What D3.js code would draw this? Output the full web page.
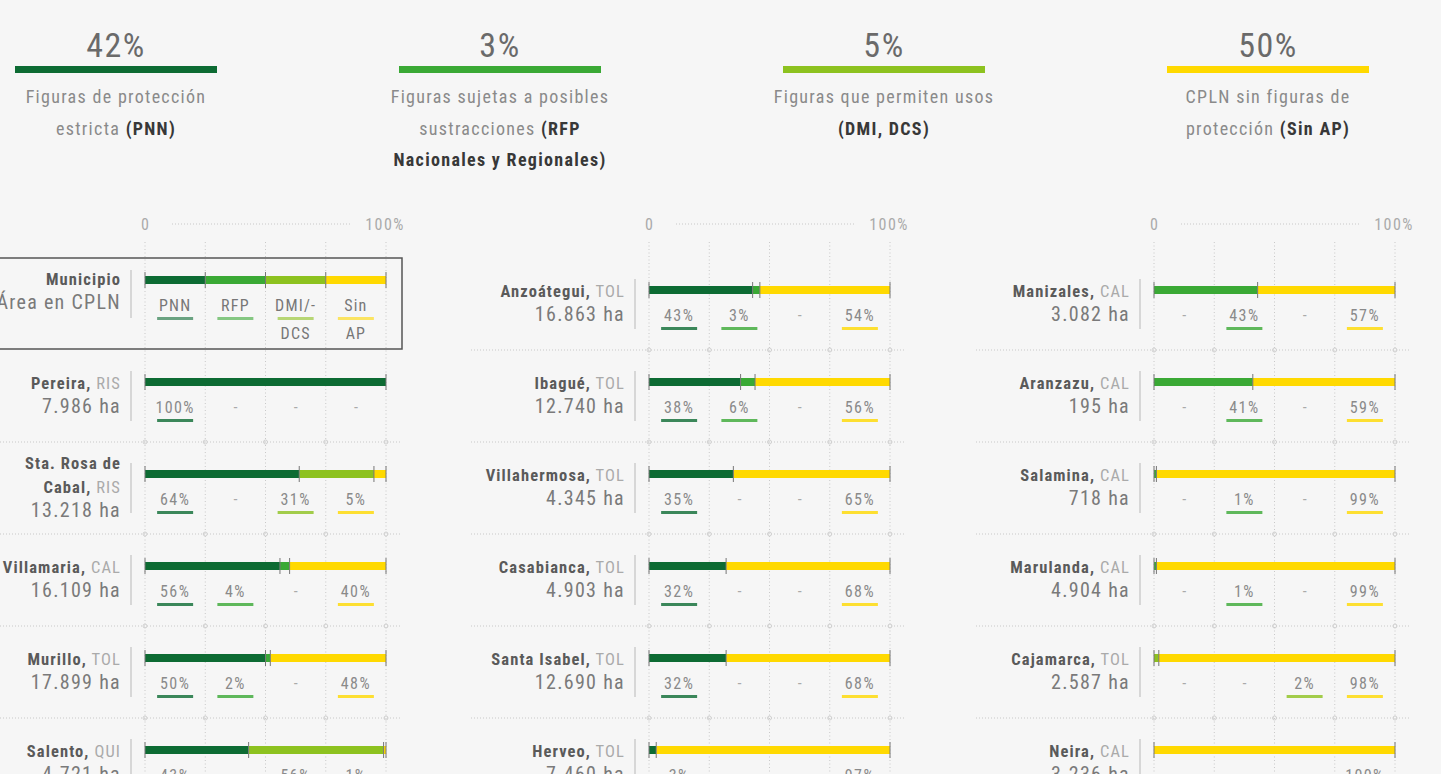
<!DOCTYPE html>
<html>
<head>
<meta charset="utf-8">
<script src="https://cdn.jsdelivr.net/npm/d3@7"></script>
<style>
body{margin:0;background:#f6f6f6;overflow:hidden}
svg{display:block;font-family:"Liberation Sans Narrow","Roboto Condensed","DejaVu Sans Condensed",sans-serif}
</style>
</head>
<body>
<div id="chart"></div>
<script>
// categorias y totales del encabezado
const categorias = ["PNN", "RFP", "DMI/DCS", "Sin AP"];
const colores = ["#0d6b33", "#3aa935", "#8dc21f", "#ffd900"];
const totales = [42, 3, 5, 50];
const encabezado = [
    [[["Figuras de protección", 0]], [["estricta ", 0], ["(PNN)", 1]]],
    [[["Figuras sujetas a posibles", 0]], [["sustracciones ", 0], ["(RFP", 1]], [["Nacionales y Regionales)", 1]]],
    [[["Figuras que permiten usos", 0]], [["(DMI, DCS)", 1]]],
    [[["CPLN sin figuras de", 0]], [["protección ", 0], ["(Sin AP)", 1]]]
];
const leyendaLineas = [["PNN"], ["RFP"], ["DMI/-", "DCS"], ["Sin", "AP"]];

// municipios ("|" = salto de linea)
const municipios = ["Pereira", "Sta. Rosa de|Cabal", "Villamaria", "Murillo", "Salento",
    "Anzoátegui", "Ibagué", "Villahermosa", "Casabianca", "Santa Isabel", "Herveo",
    "Manizales", "Aranzazu", "Salamina", "Marulanda", "Cajamarca", "Neira"];
const departamentos = ["RIS", "RIS", "CAL", "TOL", "QUI",
    "TOL", "TOL", "TOL", "TOL", "TOL", "TOL",
    "CAL", "CAL", "CAL", "CAL", "TOL", "CAL"];
const areas = ["7.986", "13.218", "16.109", "17.899", "4.721",
    "16.863", "12.740", "4.345", "4.903", "12.690", "7.460",
    "3.082", "195", "718", "4.904", "2.587", "3.236"];
const pnn   = [100, 64, 56, 50, 43,  43, 38, 35, 32, 32, 3,   0, 0, 0, 0, 0, 0];
const rfp   = [0, 0, 4, 2, 0,        3, 6, 0, 0, 0, 0,        43, 41, 1, 1, 0, 0];
const dmi   = [0, 31, 0, 0, 56,      0, 0, 0, 0, 0, 0,        0, 0, 0, 0, 2, 0];
const sinAp = [0, 5, 40, 48, 1,      54, 56, 65, 68, 68, 97,  57, 59, 99, 99, 98, 100];
const columna = [0, 0, 0, 0, 0,  1, 1, 1, 1, 1, 1,  2, 2, 2, 2, 2, 2];
const fila    = [1, 2, 3, 4, 5,  0, 1, 2, 3, 4, 5,  0, 1, 2, 3, 4, 5];

const W = 1441, H = 774;
const keys = ["pnn", "rfp", "dmi", "sinAp"];

const svg = d3.select("#chart").append("svg")
    .attr("width", W)
    .attr("height", H);

svg.append("rect").attr("width", W).attr("height", H).attr("fill", "#f6f6f6");

// ---------- encabezado ----------
const hx = d3.scalePoint().domain(d3.range(4)).range([116, 1268]);

categorias.forEach((c, i) => {
    const g = svg.append("g").attr("transform", `translate(${hx(i)},0)`);
    g.append("text")
        .attr("y", 45).attr("dy", "0.35em")
        .attr("text-anchor", "middle")
        .attr("font-size", 34)
        .attr("letter-spacing", 1.5)
        .attr("fill", "#6a6a6a")
        .text(totales[i] + "%");
    g.append("rect")
        .attr("x", -101).attr("y", 66)
        .attr("width", 202).attr("height", 7)
        .attr("fill", colores[i]);
    encabezado[i].forEach((line, j) => {
        const t = g.append("text")
            .attr("y", 97 + j * 31.5).attr("dy", "0.35em")
            .attr("text-anchor", "middle")
            .attr("font-size", 18)
            .attr("letter-spacing", 1.3);
        line.forEach(([s, b]) => t.append("tspan")
            .attr("font-weight", b ? "bold" : null)
            .attr("fill", b ? "#383838" : "#8a8a8a")
            .text(s));
    });
});

// ---------- filas ----------
const rows = municipios.map((m, i) => ({
    name: m, dept: departamentos[i], area: areas[i],
    pnn: pnn[i], rfp: rfp[i], dmi: dmi[i], sinAp: sinAp[i],
    col: columna[i], fila: fila[i]
}));
const stacked = d3.stack().keys(keys)(rows);

const y = d3.scaleLinear().domain([0, 5]).range([290, 750]);
const colStart = [145, 649, 1154];
const barW = 241;
const barH = 8;

function rowLabel(g, xr, yc, lines) {
    const lh = 24;
    const top = yc + 13 - (lines.length - 1) * lh / 2;
    lines.forEach((line, j) => {
        const t = g.append("text")
            .attr("x", xr).attr("y", top + j * lh).attr("dy", "0.35em")
            .attr("text-anchor", "end");
        line.forEach(([s, st]) => {
            const sp = t.append("tspan").text(s);
            if (st === "b") sp.attr("font-weight", "bold").attr("fill", "#5a5a5a").attr("font-size", 16.5).attr("letter-spacing", 1.1);
            if (st === "d") sp.attr("fill", "#aaa").attr("font-size", 16.5).attr("letter-spacing", 1.1);
            if (st === "a") sp.attr("fill", "#7a7a7a").attr("font-size", 20).attr("letter-spacing", 1.3);
        });
    });
}

[0, 1, 2].forEach(c => {
    const x = d3.scaleLinear().domain([0, 100]).range([colStart[c], colStart[c] + barW]);
    const g = svg.append("g").attr("class", "col-" + c);
    const grid = d3.range(0, 101, 25);
    const colRows = rows.map((r, i) => ({ ...r, i })).filter(r => r.col === c);

    // eje superior
    g.append("text").attr("x", x(0)).attr("y", 224).attr("dy", "0.35em")
        .attr("text-anchor", "middle").attr("font-size", 16).attr("fill", "#aaa").text("0");
    g.append("text").attr("x", x(100) - 1).attr("y", 224).attr("dy", "0.35em")
        .attr("text-anchor", "middle").attr("font-size", 16).attr("letter-spacing", 1.4)
        .attr("fill", "#aaa").text("100%");
    g.append("line")
        .attr("x1", x(0) + 27).attr("x2", x(100) - 36)
        .attr("y1", 224).attr("y2", 224)
        .attr("stroke", "#c8c8c8").attr("stroke-dasharray", "1,2");

    // lineas de rejilla verticales
    g.selectAll(".grid").data(grid).enter().append("line")
        .attr("x1", d => x(d)).attr("x2", d => x(d))
        .attr("y1", 242).attr("y2", H)
        .attr("stroke", "#c8c8c8").attr("stroke-dasharray", "1,2.5");

    // separadores horizontales
    const seps = colRows.slice(0, -1).map(r => y(r.fila) + 60);
    g.selectAll(".sep").data(seps).enter().append("line")
        .attr("x1", x(0) - 178).attr("x2", x(100) + 16)
        .attr("y1", d => d).attr("y2", d => d)
        .attr("stroke", "#c8c8c8").attr("stroke-dasharray", "1,2");
    seps.forEach(sy => grid.forEach(gx => g.append("circle")
        .attr("cx", x(gx)).attr("cy", sy).attr("r", 2)
        .attr("fill", "none").attr("stroke", "#d0d0d0")));

    colRows.forEach(r => {
        const yc = y(r.fila);
        const rg = g.append("g");

        // etiqueta
        const nameLines = r.name.split("|");
        const lines = nameLines.map((n, j) => j < nameLines.length - 1
            ? [[n, "b"]]
            : [[n + ",", "b"], [" " + r.dept, "d"]]);
        lines.push([[r.area + " ha", "a"]]);
        rowLabel(rg, x(0) - 24, yc, lines);
        rg.append("line")
            .attr("x1", x(0) - 14).attr("x2", x(0) - 14)
            .attr("y1", yc - 11).attr("y2", yc + 39)
            .attr("stroke", "#ccc").attr("stroke-width", 1.5);

        // barras apiladas
        const bounds = new Set();
        keys.forEach((k, ki) => {
            const [a, b] = stacked[ki][r.i];
            if (b - a <= 0) return;
            bounds.add(a); bounds.add(b);
            rg.append("rect")
                .attr("x", x(a)).attr("y", yc - barH / 2)
                .attr("width", x(b) - x(a)).attr("height", barH)
                .attr("fill", colores[ki]);
        });
        [...bounds].forEach(v => rg.append("line")
            .attr("x1", x(v)).attr("x2", x(v))
            .attr("y1", yc - 8).attr("y2", yc + 8)
            .attr("stroke", "#777").attr("stroke-width", 1));

        // porcentajes
        keys.forEach((k, ki) => {
            const cx = x(12.5 + 25 * ki);
            const v = r[k];
            rg.append("text")
                .attr("x", cx).attr("y", yc + 25).attr("dy", "0.35em")
                .attr("text-anchor", "middle")
                .attr("font-size", 16)
                .attr("letter-spacing", v > 0 ? 1.4 : 0)
                .attr("fill", v > 0 ? "#8a8a8a" : "#aaa")
                .text(v > 0 ? v + "%" : "-");
            if (v > 0) rg.append("rect")
                .attr("x", cx - 18).attr("y", yc + 37)
                .attr("width", 36).attr("height", 3)
                .attr("fill", colores[ki]).attr("opacity", 0.8);
        });
    });

    // leyenda (solo columna izquierda)
    if (c === 0) {
        const ly = 280;
        const lg = g.append("g");
        lg.append("rect")
            .attr("x", -2).attr("y", 258)
            .attr("width", 404).attr("height", 91)
            .attr("fill", "none").attr("stroke", "#555").attr("stroke-width", 1.5);
        rowLabel(lg, x(0) - 24, ly - 2, [[["Municipio", "b"]], [["Área en CPLN", "a"]]]);
        lg.append("line")
            .attr("x1", x(0) - 14).attr("x2", x(0) - 14)
            .attr("y1", ly - 10).attr("y2", ly + 38)
            .attr("stroke", "#ccc").attr("stroke-width", 1.5);
        keys.forEach((k, ki) => {
            lg.append("rect")
                .attr("x", x(25 * ki)).attr("y", ly - barH / 2)
                .attr("width", x(25) - x(0)).attr("height", barH)
                .attr("fill", colores[ki]);
            const cx = x(12.5 + 25 * ki);
            leyendaLineas[ki].forEach((s, j) => lg.append("text")
                .attr("x", cx).attr("y", ly + 25 + j * 28).attr("dy", "0.35em")
                .attr("text-anchor", "middle").attr("font-size", 16).attr("letter-spacing", 1.2)
                .attr("fill", "#777")
                .text(s));
            lg.append("rect")
                .attr("x", cx - 18).attr("y", ly + 37)
                .attr("width", 36).attr("height", 3)
                .attr("fill", colores[ki]).attr("opacity", 0.6);
        });
        grid.forEach(v => lg.append("line")
            .attr("x1", x(v)).attr("x2", x(v))
            .attr("y1", ly - 8).attr("y2", ly + 8)
            .attr("stroke", "#777"));
    }
});
</script>
</body>
</html>
